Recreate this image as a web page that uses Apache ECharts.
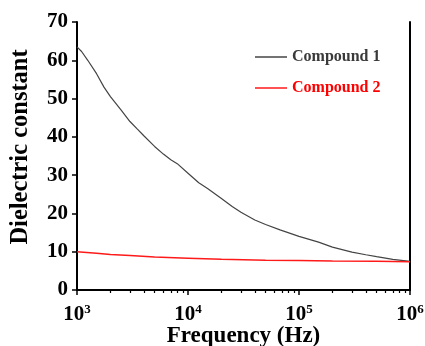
<!DOCTYPE html>
<html>
<head>
<meta charset="utf-8">
<script src="https://cdn.jsdelivr.net/npm/echarts@6/dist/echarts.min.js"></script>
<style>
  html, body { margin: 0; padding: 0; background: #fff; }
  #chart { width: 425px; height: 346px; }
</style>
</head>
<body>
<div id="chart"></div>
<script>
// frequency (Hz) and dielectric constant
const freq1 = [1000, 1100, 1250, 1500, 1750, 2000, 2500, 3000, 3500, 4000, 5000, 6000, 7000, 8000,
  10000, 12500, 15000, 20000, 25000, 30000, 40000, 50000, 67500, 100000, 150000, 200000,
  300000, 400000, 500000, 700000, 1000000];
const compound1 = [63.5, 62.3, 60.0, 56.5, 53.0, 50.5, 47.0, 44.0, 42.0, 40.3, 37.5, 35.5, 34.0, 33.0,
  30.5, 28.0, 26.5, 23.9, 21.8, 20.3, 18.3, 17.1, 15.7, 14.0, 12.5, 11.2,
  9.9, 9.2, 8.7, 8.0, 7.5];
const freq2 = [1000, 1500, 2000, 3000, 5000, 10000, 20000, 50000, 100000, 200000, 500000, 1000000];
const compound2 = [10.0, 9.6, 9.3, 9.0, 8.6, 8.3, 8.0, 7.8, 7.7, 7.6, 7.5, 7.4];
const yTicks = [0, 10, 20, 30, 40, 50, 60, 70];
const xMajor = [1000, 10000, 100000, 1000000];

const serif = '"Liberation Serif", "Times New Roman", serif';
const chart = echarts.init(document.getElementById('chart'));

const hiddenSplit = { show: true, lineStyle: { color: 'rgba(0,0,0,0)' } };
const xBase = { type: 'log', logBase: 10, min: 1000, max: 1000000, splitLine: hiddenSplit };
const yBase = { type: 'value', min: 0, max: 70, interval: 10, splitLine: hiddenSplit };
const frameLine = { show: true, lineStyle: { color: '#000', width: 2 } };
const off = { show: false };

chart.setOption({
  animation: false,
  backgroundColor: '#fff',
  grid: { left: 77, right: 15, top: 22, bottom: 56, outerBoundsMode: 'none' },
  legend: {
    orient: 'vertical',
    left: 250, top: 44,
    icon: 'rect',
    itemWidth: 32, itemHeight: 1.5, itemGap: 15,
    textStyle: { fontFamily: serif, fontWeight: 'bold', fontSize: 16 },
    data: [
      { name: 'Compound 1', textStyle: { color: '#3a3a3a' } },
      { name: 'Compound 2', textStyle: { color: '#ff0000' } }
    ]
  },
  xAxis: [{
    ...xBase,
    position: 'bottom',
    name: 'Frequency (Hz)', nameLocation: 'middle', nameGap: 35, nameMoveOverlap: false,
    nameTextStyle: { fontFamily: serif, fontWeight: 'bold', fontSize: 23, color: '#000' },
    axisLine: frameLine,
    axisTick: { show: true, length: 5, lineStyle: { color: '#000', width: 1.5 } },
    minorTick: { show: true, splitNumber: 9, length: 3, lineStyle: { color: '#000', width: 1.2 } },
    axisLabel: {
      margin: 13,
      customValues: xMajor,
      formatter: v => '{b|10}{s|' + Math.round(Math.log10(v)) + '}',
      rich: {
        b: { fontFamily: serif, fontWeight: 'bold', fontSize: 21, color: '#000' },
        s: { fontFamily: serif, fontWeight: 'bold', fontSize: 13, color: '#000', padding: [0, 0, 10, 0] }
      }
    }
  }, {
    ...xBase,
    position: 'top',
    axisLine: frameLine, axisTick: off, axisLabel: off
  }],
  yAxis: [{
    ...yBase,
    position: 'left',
    name: 'Dielectric constant', nameLocation: 'middle', nameGap: 44, nameMoveOverlap: false,
    nameTextStyle: { fontFamily: serif, fontWeight: 'bold', fontSize: 24.5, color: '#000', padding: [0, 0, 0, 18] },
    axisLine: frameLine,
    axisTick: { show: true, length: 5, lineStyle: { color: '#000', width: 1.5 } },
    axisLabel: {
      margin: 9,
      fontFamily: serif, fontWeight: 'bold', fontSize: 21, color: '#000',
      customValues: yTicks
    }
  }, {
    ...yBase,
    position: 'right',
    axisLine: frameLine, axisTick: off, axisLabel: off
  }],
  series: [{
    name: 'Compound 1', type: 'line',
    data: freq1.map((f, i) => [f, compound1[i]]),
    symbol: 'none',
    lineStyle: { color: '#444', width: 1.2 },
    itemStyle: { color: '#444' }
  }, {
    name: 'Compound 2', type: 'line',
    data: freq2.map((f, i) => [f, compound2[i]]),
    symbol: 'none',
    lineStyle: { color: '#ff1a1a', width: 1.5 },
    itemStyle: { color: '#ff1a1a' }
  }]
});
</script>
</body>
</html>
